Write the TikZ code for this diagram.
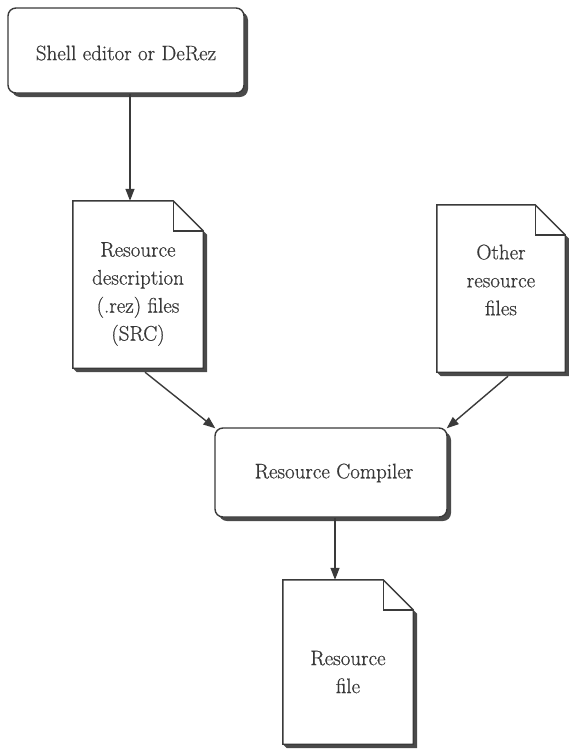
\documentclass[tikz,border=0pt]{standalone}
\usepackage{fontspec}
\setmainfont{Latin Modern Roman}
\newfontfamily\labelfont{Latin Modern Roman}[FakeBold=0.6]
\usetikzlibrary{arrows.meta}
\definecolor{inkc}{HTML}{3A3A3A}
\definecolor{shadowc}{HTML}{4A4A4A}
\definecolor{txtc}{HTML}{383838}
\newcommand\docshape[2]{%
  \fill[shadowc] ([yshift=-#2]#1.north east) -- ++(4,4) -- ([xshift=4pt,yshift=-4pt]#1.south east) -- ([xshift=4pt,yshift=-4pt]#1.south west) -- (#1.south west) -- (#1.south east) -- cycle;
  \draw[ink,fill=white,line join=miter] (#1.north west) -- ([xshift=-#2]#1.north east) -- ([yshift=-#2]#1.north east) -- (#1.south east) -- (#1.south west) -- cycle;
  \draw[ink] ([xshift=-#2]#1.north east) -- ([xshift=-#2,yshift=-#2]#1.north east) -- ([yshift=-#2]#1.north east);
}
\begin{document}
\begin{tikzpicture}[x=1pt,y=-1pt,
  ink/.style={draw=inkc,line width=1.4pt},
  procbox/.style={rectangle,rounded corners=8pt,draw=inkc,line width=1.4pt,fill=white,inner sep=0pt},
  docbox/.style={rectangle,inner sep=0pt,minimum width=130pt},
  lbl/.style={font=\labelfont\fontsize{21}{28}\selectfont,text=txtc,align=center,inner sep=0pt},
  arr/.style={draw=inkc,line width=1.4pt,-{Triangle[length=12pt,width=9pt]}},
]
\useasboundingbox[fill=white] (0,0) rectangle (569,750);

% process boxes with shadows
\fill[shadowc,rounded corners=8pt] (12,12) rectangle (248,97);
\node[procbox,minimum width=236pt,minimum height=85pt] (shell) at (126,50.5) {};
\node[lbl] (shellt) at (126,53) {Shell editor or DeRez};

\fill[shadowc,rounded corners=8pt] (219,432) rectangle (451,521);
\node[procbox,minimum width=232pt,minimum height=89pt] (comp) at (331,472.5) {};
\node[lbl] (compt) at (334,473) {Resource Compiler};

% documents
\node[docbox,minimum height=167pt] (src) at (138,284.5) {};
\docshape{src}{30pt}
\node[lbl] (srct) at (138,294) {Resource\\description\\(.rez) files\\(SRC)};

\node[docbox,minimum width=128pt,minimum height=167pt] (other) at (501,288.5) {};
\docshape{other}{30pt}
\node[lbl] (othert) at (501,280) {Other\\resource\\files};

\node[docbox,minimum height=164pt] (out) at (348,662) {};
\docshape{out}{30pt}
\node[lbl] (outt) at (348,672) {Resource\\file};

% connectors
\draw[arr] ([xshift=4pt]shell.south) -- ([xshift=4pt]shell.south |- src.north);
\draw[arr] ([xshift=7pt,yshift=-4pt]src.south) -- ([xshift=1pt,yshift=-1pt]comp.north west);
\draw[arr] ([xshift=7pt,yshift=-4pt]other.south) -- ([xshift=-1pt,yshift=-1pt]comp.north east);
\draw[arr] ([xshift=4pt]comp.south) -- ([xshift=4pt]comp.south |- out.north);
\end{tikzpicture}
\end{document}
